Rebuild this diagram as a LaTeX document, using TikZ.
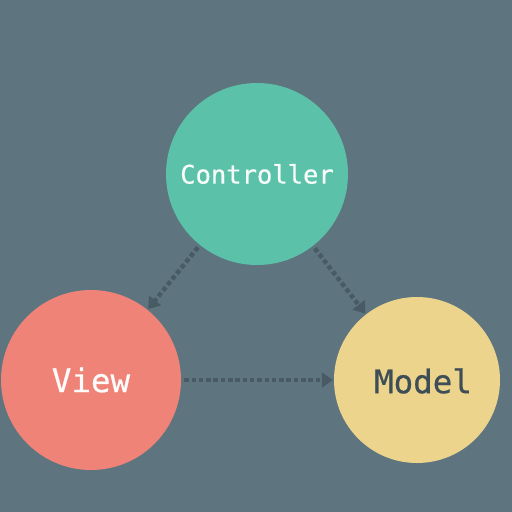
\documentclass[tikz,border=0pt]{standalone}
\usepackage{fontspec}
\setmonofont[FakeBold=0.6,AutoFakeBold=0.6]{DejaVu Sans Mono}
\usetikzlibrary{arrows.meta}
\definecolor{bg}{HTML}{5E7580}
\definecolor{ctrl}{HTML}{5BC2A9}
\definecolor{viewc}{HTML}{EF8378}
\definecolor{modelc}{HTML}{EDD48C}
\definecolor{arr}{HTML}{485A63}
\definecolor{dark}{HTML}{3D4E56}
\tikzset{
  ball/.style={circle, inner sep=0pt, font=\ttfamily},
  link/.style={arr, line width=4.5pt, dash pattern=on 4.5pt off 2.8pt,
    -{Triangle[length=11pt,width=15pt]}, shorten >=1pt, shorten <=3pt}
}
\begin{document}
\begin{tikzpicture}[x=1pt,y=-1pt]
\fill[bg] (0,0) rectangle (512,512);
\useasboundingbox (0,0) rectangle (512,512);
\node[ball, fill=ctrl, minimum size=182pt, text=white!95!ctrl, font=\ttfamily\fontsize{25.5}{30}\selectfont] (c) at (257,174) {Controller};
\node[ball, fill=viewc, minimum size=180pt, text=white!97!viewc, font=\ttfamily\fontsize{32.5}{38}\selectfont] (v) at (91,380) {View};
\node[ball, fill=modelc, minimum size=166pt, text=dark, font=\ttfamily\fontsize{32.5}{38}\selectfont] (m) at (417,380) {};
\node[text=dark, font=\ttfamily\fontsize{32.5}{38}\selectfont] (mt) at (423,381) {Model};
\draw[link] (c) -- (v);
\draw[link] (c) -- (m);
\draw[link] (v) -- (m);
\end{tikzpicture}
\end{document}
